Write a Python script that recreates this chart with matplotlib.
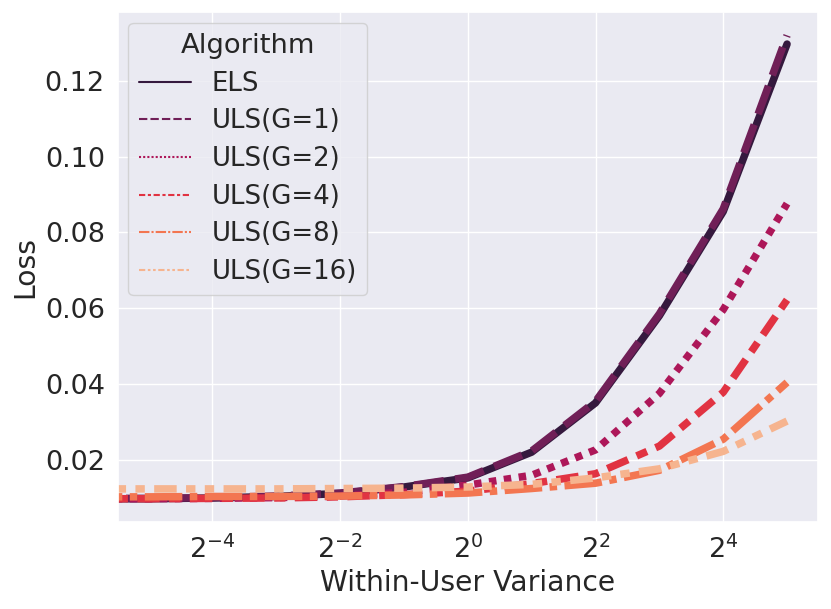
import matplotlib
matplotlib.use("Agg")
import matplotlib.pyplot as plt
from matplotlib.lines import Line2D
import seaborn as sns
import numpy as np

# ---- data ----
exponents = [-6, -5, -4, -3, -2, -1, 0, 1, 2, 3, 4, 5]
variance = [2.0 ** e for e in exponents]
algorithms = ["ELS", "ULS(G=1)", "ULS(G=2)", "ULS(G=4)", "ULS(G=8)", "ULS(G=16)"]
loss_els = [0.0097, 0.0097, 0.0099, 0.0103, 0.0111, 0.0128, 0.0152, 0.0220, 0.0350, 0.0580, 0.0855, 0.1297]
loss_g1 = [0.0098, 0.0098, 0.0100, 0.0104, 0.0112, 0.0129, 0.0154, 0.0223, 0.0354, 0.0585, 0.0862, 0.1320]
loss_g2 = [0.0097, 0.0097, 0.0098, 0.0100, 0.0104, 0.0114, 0.0133, 0.0159, 0.0226, 0.0375, 0.0596, 0.0876]
loss_g4 = [0.0097, 0.0097, 0.0098, 0.0099, 0.0102, 0.0108, 0.0117, 0.0137, 0.0163, 0.0236, 0.0378, 0.0622]
loss_g8 = [0.0102, 0.0102, 0.0103, 0.0103, 0.0104, 0.0107, 0.0112, 0.0124, 0.0138, 0.0172, 0.0254, 0.0404]
loss_g16 = [0.0123, 0.0123, 0.0123, 0.0123, 0.0124, 0.0125, 0.0128, 0.0135, 0.0152, 0.0176, 0.0222, 0.0302]
series = [loss_els, loss_g1, loss_g2, loss_g4, loss_g8, loss_g16]

# seaborn-style dash patterns
dash_styles = [None, (4, 1.5), (1, 1), (3, 1.25, 1.5, 1.25), (5, 1, 1, 1), (3, 1.25, 1.25, 1.25, 1.25, 1.25)]

sns.set_theme(style="darkgrid")
plt.rcParams['font.family'] = ['DejaVu Sans']
colors = sns.color_palette("rocket", 6)

fig = plt.figure(figsize=(8.31, 6.09), dpi=100)
ax = fig.add_axes([0.142, 0.143, 0.842, 0.837])

for name, vals, col, ds in zip(algorithms, series, colors, dash_styles):
    if ds is None:
        ax.plot(variance, vals, color=col, lw=5.4, solid_capstyle='round', label=name)
    else:
        ax.plot(variance, vals, color=col, lw=5.4, dashes=ds, label=name)

ax.set_xscale('log', base=2)
ax.set_xlim(2 ** -5.48, 2 ** 5.48)
ax.set_xticks([2.0 ** -4, 2.0 ** -2, 2.0 ** 0, 2.0 ** 2, 2.0 ** 4])
ax.minorticks_off()
ax.tick_params(labelsize=19.5)
ax.set_xlabel("Within-User Variance", fontsize=20.3)
ax.set_ylabel("Loss", fontsize=20.3)

handles = []
for name, col, ds in zip(algorithms, colors, dash_styles):
    if ds is None:
        h = Line2D([], [], color=col, lw=1.5)
    else:
        h = Line2D([], [], color=col, lw=1.5, dashes=ds)
    handles.append(h)
leg = ax.legend(handles, algorithms, title="Algorithm", loc="upper left",
                fontsize=18.7, title_fontsize=19.7, labelspacing=0.45,
                borderaxespad=0.4)

fig.savefig("out.png", dpi=100)
